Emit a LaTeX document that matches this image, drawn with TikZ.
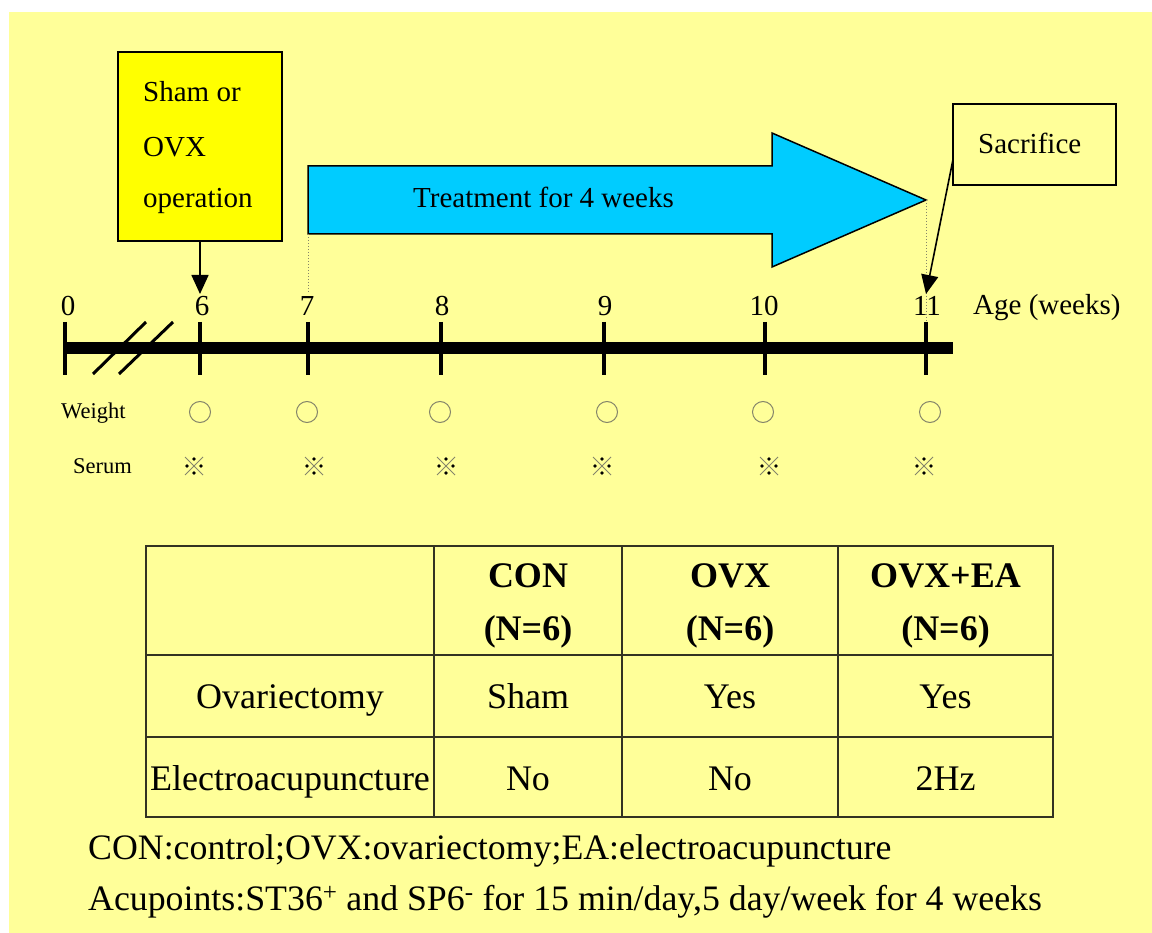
\documentclass[tikz,border=0pt]{standalone}
\usepackage{fontspec}
\setmainfont{Liberation Serif}
\usetikzlibrary{arrows.meta}
\definecolor{bgy}{HTML}{FFFF99}
\definecolor{boxy}{HTML}{FFFF00}
\definecolor{cyanb}{HTML}{00CCFF}
\definecolor{markg}{HTML}{85856A}
\definecolor{gridc}{HTML}{333322}
\begin{document}
\begin{tikzpicture}[x=1pt,y=-1pt,
  txt/.style={inner sep=0pt, font=\fontsize{29}{29}\selectfont},
  small/.style={inner sep=0pt, anchor=base west, font=\fontsize{22.5}{22.5}\selectfont},
  cell/.style={inner sep=0pt, anchor=base, font=\fontsize{36}{36}\selectfont},
  hcell/.style={inner sep=0pt, anchor=base, font=\fontsize{36}{36}\selectfont\bfseries},
  foot/.style={inner sep=0pt, anchor=base west, font=\fontsize{35.8}{36}\selectfont},
  tick/.style={line width=4pt},
  connector/.style={line width=1.6pt, -{Triangle[width=17pt,length=19pt]}},
  guide/.style={line width=1pt, dotted, markg},
  wmark/.style={markg, line width=1pt},
  gridline/.style={gridc, line width=1.5pt}]
\useasboundingbox (0,0) rectangle (1152,933);
\fill[bgy] (9,12) rectangle (1152,933);

% operation box
\node[draw, line width=2.5pt, fill=boxy, minimum width=164pt, minimum height=189pt, anchor=north west, inner sep=0pt, outer sep=0pt] (opbox) at (118,52) {};
\node[txt, anchor=base west] (op1) at (143,102) {Sham or};
\node[txt, anchor=base west] (op2) at (143,157) {OVX};
\node[txt, anchor=base west] (op3) at (143,208) {operation};

% treatment arrow
\draw[fill=cyanb, line width=1.5pt, line join=miter] (308,166) -- (772,166) -- (772,133) -- (926,200) -- (772,267) -- (772,234) -- (308,234) -- cycle;
\coordinate (arrtip) at (926,200);
\coordinate (arrbl) at (308,234);
\node[txt, anchor=base west] (treat) at (413,208) {Treatment for 4 weeks};

% sacrifice box
\node[draw, line width=2pt, minimum width=163pt, minimum height=81pt, anchor=north west, inner sep=0pt, outer sep=0pt] (sacbox) at (953,104) {};
\node[txt, anchor=base west] (sac) at (978,154) {Sacrifice};

% timeline
\coordinate (tl0) at (64,348);
\coordinate (tlend) at (953,348);
\draw[line width=12pt] (tl0) -- (tlend);
\foreach \n/\x in {0/65,6/200,7/308,8/441,9/604,10/765,11/926}{
  \coordinate (t\n top) at (\x,322);
  \coordinate (t\n bot) at (\x,375);
  \draw[tick] (t\n top) -- (t\n bot);
}
\draw[line width=3pt] (93,374) -- (146,322);
\draw[line width=3pt] (119,374) -- (173,322);
\foreach \n/\x in {0/68,6/202,7/307,8/442,9/605,10/764,11/927}{
  \node[txt, anchor=base] (lab\n) at (\x,316) {\n};
}
\node[txt, anchor=base west] (age) at (973,315) {Age (weeks)};

% guides
\draw[guide] (arrbl) -- (308,292);
\draw[guide] (arrtip) -- (t11top);

% connectors
\coordinate (opend) at (200,294);
\coordinate (sacend) at (926,294);
\draw[connector] (opbox.south) -- (opbox.south |- opend);
\draw[connector] (sacbox.west) ++(0,15) -- (sacend);

% weight / serum
\node[small] (weight) at (61,418) {Weight};
\node[small] (serum) at (73,473) {Serum};
\foreach \x in {200,307,440,607,763,930}{
  \draw[wmark] (\x,412) circle (10.5);
}
\foreach \x in {194,314,446,602,769,924}{
  \draw[wmark] (\x-9,457) -- (\x+9,475);
  \draw[wmark] (\x-9,475) -- (\x+9,457);
  \fill (\x,459) circle (1.8);
  \fill (\x,473) circle (1.8);
  \fill (\x-7,466) circle (1.8);
  \fill (\x+7,466) circle (1.8);
}

% table
\draw[gridline] (146,546) rectangle (1053,817);
\draw[gridline] (146,655) -- (1053,655);
\draw[gridline] (146,737) -- (1053,737);
\draw[gridline] (434,546) -- (434,817);
\draw[gridline] (622,546) -- (622,817);
\draw[gridline] (838,546) -- (838,817);
\node[hcell] (h1a) at (528,587) {CON};
\node[hcell] (h1b) at (528,640) {(N=6)};
\node[hcell] (h2a) at (730,587) {OVX};
\node[hcell] (h2b) at (730,640) {(N=6)};
\node[hcell] (h3a) at (945.5,587) {OVX+EA};
\node[hcell] (h3b) at (945.5,640) {(N=6)};
\node[cell] (r1) at (290,708) {Ovariectomy};
\node[cell] (r1a) at (528,708) {Sham};
\node[cell] (r1b) at (730,708) {Yes};
\node[cell] (r1c) at (945.5,708) {Yes};
\node[cell] (r2) at (290,790) {Electroacupuncture};
\node[cell] (r2a) at (528,790) {No};
\node[cell] (r2b) at (730,790) {No};
\node[cell] (r2c) at (945.5,790) {2Hz};

% footnotes
\node[foot] (f1) at (88,859) {CON:control;OVX:ovariectomy;EA:electroacupuncture};
\node[foot] (f2) at (88,910) {Acupoints:ST36\textsuperscript{+} and SP6\textsuperscript{-} for 15 min/day,5 day/week for 4 weeks};
\end{tikzpicture}
\end{document}
